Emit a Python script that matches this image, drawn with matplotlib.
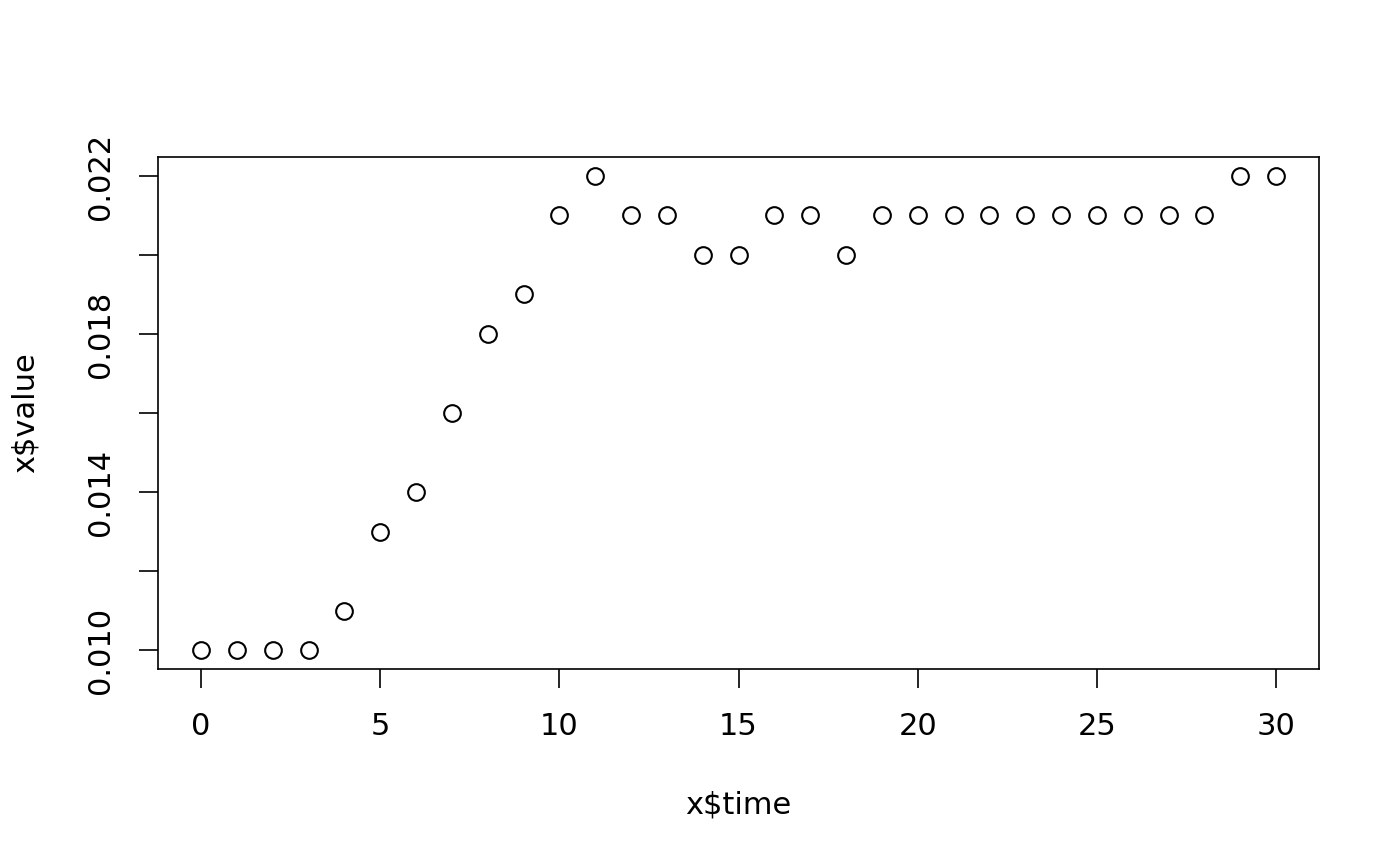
import matplotlib
matplotlib.use("Agg")
import matplotlib.pyplot as plt

time = list(range(31))
value = [0.010, 0.010, 0.010, 0.010, 0.011, 0.013, 0.014, 0.016, 0.018, 0.019,
         0.021, 0.022, 0.021, 0.021, 0.020, 0.020, 0.021, 0.021, 0.020, 0.021,
         0.021, 0.021, 0.021, 0.021, 0.021, 0.021, 0.021, 0.021, 0.021, 0.022,
         0.022]
xticks = [0, 5, 10, 15, 20, 25, 30]
yticks = [0.010, 0.012, 0.014, 0.016, 0.018, 0.020, 0.022]
ytick_labels = ["0.010", "", "0.014", "", "0.018", "", "0.022"]

plt.rcParams['font.family'] = ['DejaVu Sans']
fig = plt.figure(figsize=(14, 8.66), dpi=100)
ax = fig.add_axes([158/1400, 1-669/866, (1319-158)/1400, (669-157)/866])
ax.plot(time, value, linestyle='none', marker='o', markersize=12,
        markerfacecolor='none', markeredgecolor='black', markeredgewidth=1.5)

xr = max(time) - min(time)
yr = max(value) - min(value)
ax.set_xlim(min(time) - 0.04*xr, max(time) + 0.04*xr)
ax.set_ylim(min(value) - 0.04*yr, max(value) + 0.04*yr)
ax.set_xticks(xticks)
ax.set_xticklabels([str(t) for t in xticks])
ax.set_yticks(yticks)
ax.set_yticklabels(ytick_labels, rotation=90, va='center')
ax.tick_params(axis='both', direction='out', length=14, width=1.2,
               labelsize=22, color='black')
ax.tick_params(axis='x', pad=17)
ax.tick_params(axis='y', pad=17)
for s in ax.spines.values():
    s.set_linewidth(1.2)

ax.set_xlabel("x$time", fontsize=22)
ax.set_ylabel("x$value", fontsize=22)
ax.xaxis.set_label_coords(0.5, (669-805)/512)
ax.xaxis.label.set_va('center')
ax.yaxis.set_label_coords((25-158)/1161, 0.5)
ax.yaxis.label.set_va('center')

fig.savefig("out.png", dpi=100)
